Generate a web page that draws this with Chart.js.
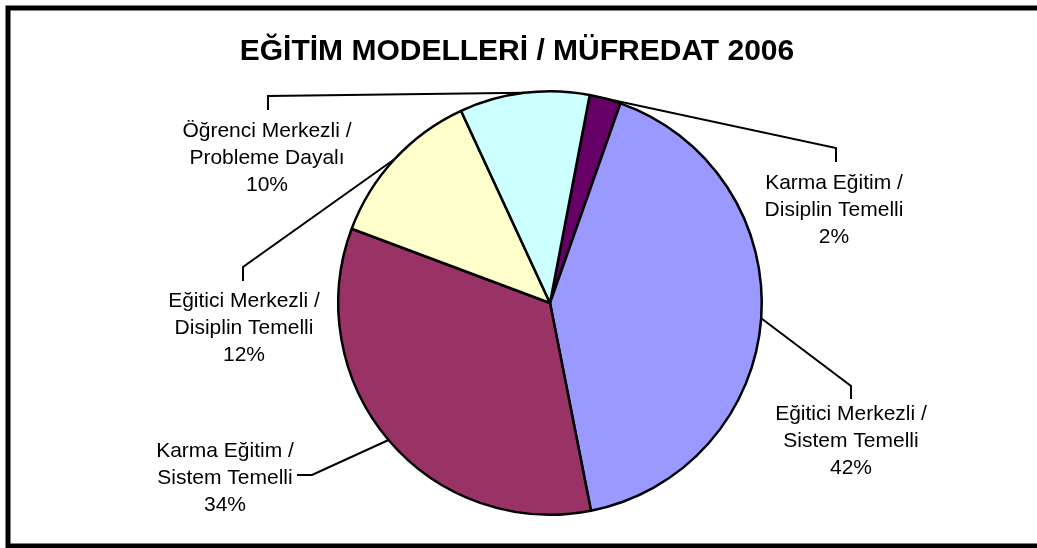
<!DOCTYPE html>
<html>
<head>
<meta charset="utf-8">
<script src="https://cdn.jsdelivr.net/npm/chart.js@4"></script>
<style>
  html, body { margin: 0; padding: 0; background: #fff; }
  #wrap { width: 1037px; height: 548px; position: relative; }
</style>
</head>
<body>
<div id="wrap"><canvas id="pieChart" width="1037" height="548"></canvas></div>
<script>
const chartTitle = 'EĞİTİM MODELLERİ / MÜFREDAT 2006';
const categories = [
    'Karma Eğitim / Disiplin Temelli',
    'Eğitici Merkezli / Sistem Temelli',
    'Karma Eğitim / Sistem Temelli',
    'Eğitici Merkezli / Disiplin Temelli',
    'Öğrenci Merkezli / Probleme Dayalı'
];
const shares = [2.4, 41.5, 33.8, 12.4, 9.9];
const sliceColors = ['#660066', '#9999FF', '#993366', '#FFFFCC', '#CCFFFF'];

const FONT = 'Arial, "Liberation Sans", sans-serif';

// where each data label sits and how its leader line bends
const labelSpots = [
    { cx: 834, top: 174, bend: [[836, 148], [836, 162]] },
    { cx: 851, top: 405, bend: [[851, 386], [851, 399]] },
    { cx: 225, top: 442, bend: [[312, 475], [297, 475]] },
    { cx: 244, top: 292, bend: [[243, 267], [243, 281]] },
    { cx: 267, top: 122, bend: [[268, 96], [268, 110]] }
];

const total = shares.reduce((a, b) => a + b, 0);

const labelPlugin = {
    id: 'pieLabels',
    afterDraw(chart) {
        const ctx = chart.ctx;
        const arcs = chart.getDatasetMeta(0).data;
        ctx.save();

        // frame
        ctx.strokeStyle = '#000';
        ctx.lineWidth = 5;
        ctx.strokeRect(8, 8, 1100, 538);

        // title
        ctx.fillStyle = '#000';
        ctx.font = 'bold 30px ' + FONT;
        ctx.textAlign = 'center';
        ctx.textBaseline = 'alphabetic';
        ctx.fillText(chartTitle, 517, 60);

        arcs.forEach((arc, i) => {
            const spot = labelSpots[i];
            const mid = (arc.startAngle + arc.endAngle) / 2;
            const ex = arc.x + Math.cos(mid) * arc.outerRadius;
            const ey = arc.y + Math.sin(mid) * arc.outerRadius;

            ctx.strokeStyle = '#000';
            ctx.lineWidth = 2;
            ctx.beginPath();
            ctx.moveTo(ex, ey);
            spot.bend.forEach(p => ctx.lineTo(p[0], p[1]));
            ctx.stroke();

            const lines = categories[i].replace(' / ', ' /|').split('|');
            lines.push(Math.round(shares[i] / total * 100) + '%');
            ctx.font = '21px ' + FONT;
            ctx.fillStyle = '#000';
            ctx.textAlign = 'center';
            lines.forEach((t, j) => {
                ctx.fillText(t, spot.cx, spot.top + 15 + j * 27);
            });
        });
        ctx.restore();
    }
};

new Chart(document.getElementById('pieChart'), {
    type: 'pie',
    data: {
        labels: categories,
        datasets: [{
            data: shares,
            backgroundColor: sliceColors,
            borderColor: '#000',
            borderWidth: 2.5
        }]
    },
    options: {
        responsive: false,
        animation: false,
        rotation: 10.8,
        layout: { padding: { top: 90, bottom: 32, left: 100, right: 37 } },
        plugins: {
            legend: { display: false },
            tooltip: { enabled: false },
            title: { display: false }
        }
    },
    plugins: [labelPlugin]
});
</script>
</body>
</html>
